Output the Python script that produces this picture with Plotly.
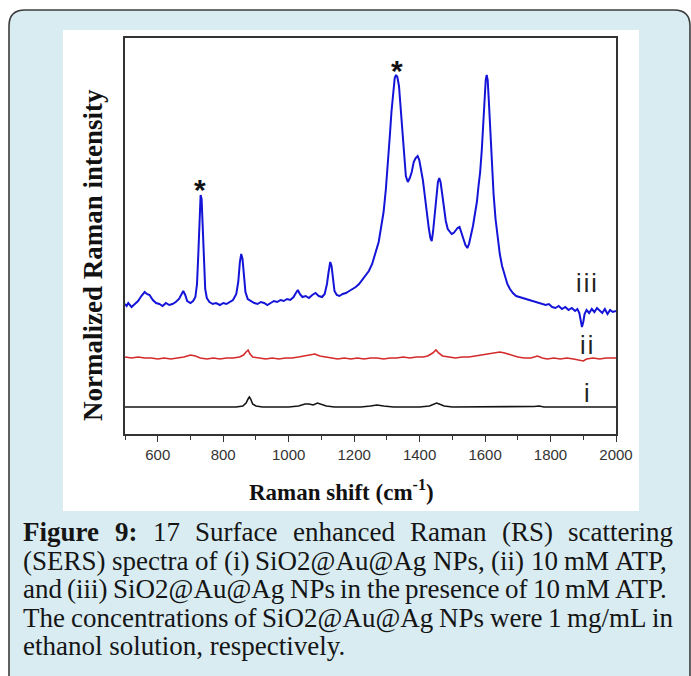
import plotly.graph_objects as go

# ---------------- data (Raman shift in cm-1, intensity in arbitrary units, stacked) -------------
x_iii = [500, 505, 510, 515, 520, 530, 540, 550, 560, 567, 575, 585, 595, 605, 615, 625, 635, 645,
         655, 665, 672, 678, 684, 690, 700, 708, 715, 720, 724, 728, 731, 734, 737, 741, 745, 750,
         758, 768, 778, 790, 800, 810, 820, 830, 840, 846, 851, 855, 859, 863, 868, 875, 885, 895,
         905, 915, 925, 935, 945, 955, 965, 975, 985, 995, 1005, 1015, 1022, 1028, 1034, 1042, 1052,
         1062, 1072, 1082, 1092, 1102, 1110, 1117, 1122, 1127, 1131, 1135, 1140, 1147, 1155, 1165,
         1175, 1185, 1195, 1205, 1215, 1225, 1235, 1245, 1255, 1265, 1275, 1283, 1290, 1297, 1303,
         1309, 1314, 1319, 1324, 1328, 1332, 1337, 1342, 1347, 1352, 1358, 1364, 1370, 1376, 1382,
         1388, 1394, 1399, 1404, 1410, 1416, 1422, 1428, 1433, 1437, 1441, 1446, 1451, 1456, 1460,
         1464, 1469, 1474, 1480, 1486, 1492, 1498, 1504, 1510, 1516, 1522, 1528, 1534, 1540, 1546,
         1551, 1557, 1563, 1569, 1575, 1580, 1585, 1590, 1594, 1598, 1602, 1605, 1608, 1612, 1616,
         1621, 1626, 1632, 1638, 1645, 1652, 1660, 1668, 1676, 1685, 1695, 1705, 1715, 1725, 1735,
         1745, 1755, 1765, 1775, 1785, 1795, 1805, 1815, 1825, 1835, 1845, 1855, 1865, 1875, 1882,
         1888, 1892, 1896, 1900, 1904, 1910, 1918, 1926, 1934, 1942, 1950, 1958, 1966, 1974, 1982,
         1990, 2000]
y_iii = [130, 128, 131, 129, 127, 130, 133, 138, 142, 140, 139, 134, 131, 130, 128, 131, 129, 130,
         132, 135, 140, 143, 139, 133, 131, 133, 137, 150, 180, 222, 239, 235, 212, 170, 145, 136,
         132, 130, 131, 129, 131, 130, 132, 134, 140, 152, 172, 180, 175, 158, 142, 135, 133, 131,
         130, 132, 131, 129, 131, 133, 132, 134, 133, 135, 134, 137, 141, 144, 140, 137, 138,
         136, 139, 141, 138, 137, 140, 150, 162, 172, 168, 155, 143, 139, 138, 140,
         141, 143, 145, 147, 150, 154, 158, 163, 170, 180, 192, 208, 222, 245, 268,
         298, 322, 343, 356, 359, 357, 348, 326, 298, 275, 258, 252, 256, 262, 272,
         276, 278, 274, 266, 254, 238, 220, 206, 196, 193, 202, 220, 240, 252, 256,
         252, 240, 226, 213, 205, 202, 200, 201, 204, 206, 207, 202, 195, 189, 186,
         190, 198, 208, 220, 232, 248, 262, 284, 310, 336, 354, 359, 354, 330, 300,
         268, 240, 215, 196, 180, 168, 158, 150, 145, 141, 138, 137, 136, 135, 134,
         133, 132, 131, 130, 129, 130, 127, 126, 128, 125, 127, 124, 126, 123, 125,
         121, 114, 107, 112, 120, 124, 121, 125, 122, 126, 123, 121, 125, 120, 124,
         122, 123]

x_ii = [500, 520, 540, 560, 580, 600, 620, 640, 660, 680, 700, 715, 730, 750, 770, 790, 810, 830,
        850, 862, 870, 876, 882, 890, 910, 930, 950, 970, 990, 1010, 1030, 1050, 1065, 1080, 1095,
        1110, 1130, 1150, 1170, 1190, 1210, 1230, 1250, 1270, 1290, 1310, 1330, 1350, 1370, 1390,
        1410, 1425, 1440, 1450, 1458, 1470, 1490, 1510, 1530, 1550, 1570, 1590, 1610, 1630, 1645,
        1660, 1680, 1700, 1720, 1740, 1760, 1775, 1790, 1810, 1830, 1850, 1870, 1890, 1900, 1910,
        1930, 1950, 1970, 1990, 2000]
y_ii = [77, 76, 77, 76, 76, 75, 76, 75, 76, 77, 79, 78, 76, 75, 76, 75, 76, 76,
        77, 79, 82, 84, 80, 77, 76, 75, 76, 75, 76, 76, 77, 78, 79, 80, 78,
        77, 76, 75, 76, 75, 76, 75, 76, 76, 75, 76, 76, 77, 76, 77,
        77, 78, 81, 84, 81, 78, 77, 76, 77, 77, 78, 79, 80, 81, 82,
        81, 79, 77, 76, 76, 78, 76, 75, 76, 75, 76, 75, 74, 73, 75,
        76, 75, 76, 76, 76]

x_i = [500, 550, 600, 650, 700, 750, 800, 840, 860, 870, 876, 880, 884, 890, 900, 920, 960, 1000,
       1030, 1050, 1062, 1075, 1088, 1100, 1115, 1140, 1180, 1220, 1250, 1270, 1290, 1320, 1360,
       1400, 1430, 1445, 1452, 1460, 1475, 1500, 1550, 1600, 1640, 1680, 1720, 1750, 1765, 1780,
       1820, 1870, 1920, 1960, 2000]
y_i = [27, 27, 27, 27, 27, 27, 27, 27, 28, 31, 35, 37, 35, 30, 28, 27, 27, 27,
       28, 30, 30, 29, 31, 30, 28, 27, 27, 27, 28, 29, 28, 27, 27,
       27, 28, 30, 31, 30, 28, 27, 27, 27, 27, 27, 27, 27.5, 28, 27,
       27, 27, 27, 27, 27]

x_ticks = [600, 800, 1000, 1200, 1400, 1600, 1800, 2000]
curve_labels = ["i\u200ai\u200ai", "i\u200ai", "i"]
label_x = 1911
label_y = [151, 89, 41]
star_x = [730, 1330]
star_y = [245, 364]

caption_lines = [
    "Figure 9: 17 Surface enhanced Raman (RS) scattering",
    "(SERS) spectra of (i) SiO2@Au@Ag NPs, (ii) 10 mM ATP,",
    "and (iii) SiO2@Au@Ag NPs in the presence of 10 mM ATP.",
    "The concentrations of SiO2@Au@Ag NPs were 1 mg/mL in",
    "ethanol solution, respectively.",
]
caption_justify = [True, True, True, True, False]

# ---------------- layout geometry (pixels) ----------------
W, H = 691, 676
L, R, T, B = 125, 616, 38, 434   # plot area edges in px


def fx(px):
    return (px - L) / (R - L)


def fy(py):
    return (B - py) / (B - T)


# Times / Liberation Serif advance widths (per 1000 em)
_reg = dict(zip("abcdefghijklmnopqrstuvwxyz",
                [444, 500, 444, 500, 444, 333, 500, 500, 278, 278, 500, 278, 778, 500, 500, 500,
                 500, 333, 389, 278, 500, 500, 722, 500, 500, 444]))
_reg.update(dict(zip("ABCDEFGHIJKLMNOPQRSTUVWXYZ",
                     [722, 667, 667, 722, 611, 556, 722, 722, 333, 389, 722, 611, 889, 722, 722, 556,
                      722, 667, 556, 611, 722, 722, 944, 722, 722, 611])))
_reg.update({c: 500 for c in "0123456789"})
_reg.update({"(": 333, ")": 333, "@": 921, ",": 250, ".": 250, "/": 278, ":": 278, " ": 250, "-": 333})
_bold = dict(_reg)
_bold.update({"F": 611, "u": 556, "r": 444, ":": 333})


def tw(s, size, bold=False):
    tab = _bold if bold else _reg
    return sum(tab.get(c, 500) for c in s) * size / 1000.0


fig = go.Figure()

fig.add_trace(go.Scatter(x=x_i, y=y_i, mode="lines", line=dict(color="#141414", width=1.6),
                         hoverinfo="skip"))
fig.add_trace(go.Scatter(x=x_ii, y=y_ii, mode="lines", line=dict(color="#d42a2a", width=1.6),
                         hoverinfo="skip"))
fig.add_trace(go.Scatter(x=x_iii, y=y_iii, mode="lines", line=dict(color="#1414d8", width=2.0),
                         hoverinfo="skip"))

shapes = []
# caption panel with rounded top corners
x0p, x1p, topp, botp, rr = 9, 690, 10, 720, 16
panel_path = (f"M {fx(x0p)},{fy(botp)} L {fx(x0p)},{fy(topp + rr)} "
              f"Q {fx(x0p)},{fy(topp)} {fx(x0p + rr)},{fy(topp)} "
              f"L {fx(x1p - rr)},{fy(topp)} Q {fx(x1p)},{fy(topp)} {fx(x1p)},{fy(topp + rr)} "
              f"L {fx(x1p)},{fy(botp)} Z")
shapes.append(dict(type="path", xref="paper", yref="paper", path=panel_path,
                   fillcolor="#d8ecf2", line=dict(color="#3c3c3c", width=1.6), layer="below"))
shapes.append(dict(type="rect", xref="paper", yref="paper", x0=fx(63), x1=fx(639),
                   y0=fy(511), y1=fy(30), fillcolor="white", line=dict(width=0), layer="below"))

annotations = []
# curve labels
for t, yv in zip(curve_labels, label_y):
    annotations.append(dict(x=label_x, y=yv, xref="x", yref="y", text=t, showarrow=False,
                            font=dict(family="Liberation Sans, Arial", size=25, color="#222222"),
                            xanchor="center", yanchor="middle"))
# asterisks
for sx, sy in zip(star_x, star_y):
    annotations.append(dict(x=sx, y=sy, xref="x", yref="y", text="<b>*</b>", showarrow=False,
                            font=dict(family="Liberation Sans, Arial", size=30, color="#111111"),
                            xanchor="center", yanchor="middle"))
# axis titles
annotations.append(dict(x=fx(341), y=fy(490), xref="paper", yref="paper",
                        text="<b>Raman shift (cm<sup>-1</sup>)</b>", showarrow=False,
                        font=dict(family="Liberation Serif, Times New Roman", size=23, color="#111111"),
                        xanchor="center", yanchor="middle"))
annotations.append(dict(x=fx(93), y=fy(255), xref="paper", yref="paper",
                        text="<b>Normalized Raman intensity</b>", showarrow=False, textangle=-90,
                        font=dict(family="Liberation Serif, Times New Roman", size=27, color="#111111"),
                        xanchor="center", yanchor="middle"))

# caption, justified word by word
cap_size = 27
cap_left, cap_right = 22, 672
cap_font = dict(family="Liberation Serif, Times New Roman", size=cap_size, color="#151515")
for li, (line, just) in enumerate(zip(caption_lines, caption_justify)):
    ypx = 532 + 28.5 * li
    words = line.split(" ")
    bolds = [li == 0 and wi < 2 for wi in range(len(words))]
    if just:
        widths = [tw(w, cap_size, b) for w, b in zip(words, bolds)]
        gap = (cap_right - cap_left - sum(widths)) / (len(words) - 1)
        xpos = cap_left
        for w, b, wd in zip(words, bolds, widths):
            annotations.append(dict(x=fx(xpos), y=fy(ypx), xref="paper", yref="paper",
                                    text=f"<b>{w}</b>" if b else w, showarrow=False,
                                    font=cap_font, xanchor="left", yanchor="middle",
                                    borderpad=0))
            xpos += wd + gap
    else:
        annotations.append(dict(x=fx(cap_left), y=fy(ypx), xref="paper", yref="paper",
                                text=line, showarrow=False, font=cap_font,
                                xanchor="left", yanchor="middle", borderpad=0))

fig.update_layout(
    width=W, height=H,
    margin=dict(l=L, r=W - R, t=T, b=H - B, pad=0),
    paper_bgcolor="white", plot_bgcolor="rgba(0,0,0,0)",
    showlegend=False,
    shapes=shapes, annotations=annotations,
    xaxis=dict(range=[500, 2000], tickvals=x_ticks, ticks="outside", ticklen=6, tickwidth=1.4,
               tickcolor="#333333", showline=True, linecolor="#333333", linewidth=1.6, mirror=True,
               showgrid=False, zeroline=False,
               tickfont=dict(family="Liberation Sans, Arial", size=15, color="#333333"),
               minor=dict(dtick=100, tick0=500, ticks="outside", ticklen=4, tickwidth=1.2,
                          tickcolor="#333333", showgrid=False)),
    yaxis=dict(range=[0, 396], showticklabels=False, ticks="", showline=True, linecolor="#333333",
               linewidth=1.6, mirror=True, showgrid=False, zeroline=False),
)

fig.write_html("out.html")
